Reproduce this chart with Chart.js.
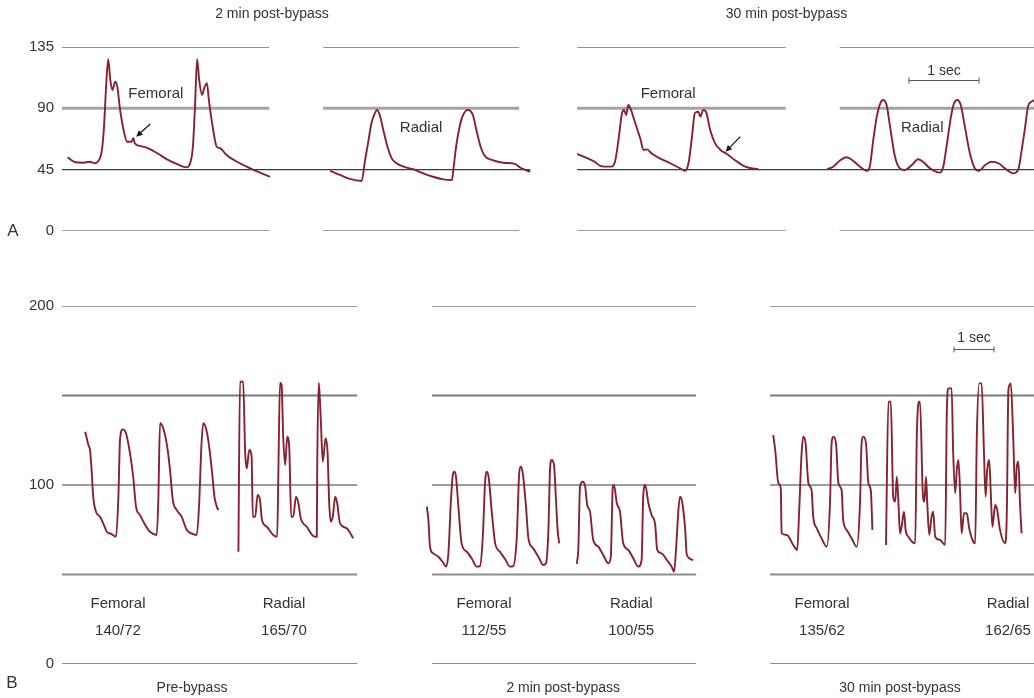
<!DOCTYPE html>
<html lang="en">
<head>
<meta charset="UTF-8">
<title>Femoral and radial arterial pressure</title>
<script src="https://cdn.jsdelivr.net/npm/chart.js"></script>
<style>
    body {
        margin: 0;
        background: #fff;
        font-family: "Liberation Sans", Arial, sans-serif;
    }
    #wrap { position: relative; width: 1034px; height: 698px; }
    .panel { position: absolute; left: 0; width: 1034px; }
    #panelA { top: 0; height: 262px; }
    #panelB { top: 262px; height: 436px; }
</style>
</head>
<body>
<div id="wrap">
    <div class="panel" id="panelA"><canvas id="chartA"></canvas></div>
    <div class="panel" id="panelB"><canvas id="chartB"></canvas></div>
</div>

<script>
// ---- Panel A data: time (s), pressure (mmHg) ----
const aTicks = [0, 45, 90, 135];
const aGridLevels = [0, 90, 135];
const aBaseline = 45;
const aSegments = [[0, 2.96], [3.73, 6.53], [7.36, 10.34], [11.11, 13.89]];
const aBaselineSpans = [[0, 6.69], [7.36, 13.89]];

const aFemoral2min = [[0.08,54],[0.19,50.4],[0.30,50.1],[0.40,50.8],[0.47,49.7],[0.51,50.8],[0.57,59.4],[0.60,76.5],[0.63,105.9],[0.66,126],[0.69,110.8],[0.72,103.4],[0.76,109.5],[0.79,105.9],[0.83,88.8],[0.88,74.1],[0.93,65.5],[0.99,65.5],[1.02,68],[1.04,64.3],[1.11,62.4],[1.21,61.1],[1.35,57.4],[1.50,52.6],[1.64,49.2],[1.78,46.7],[1.83,49.7],[1.87,61.8],[1.90,91.2],[1.93,126],[1.96,110.8],[2.00,99.8],[2.03,104.7],[2.07,108.4],[2.10,95.2],[2.16,74.1],[2.21,61.8],[2.26,60.7],[2.35,55.8],[2.50,50.8],[2.69,46],[2.83,42.8],[2.97,39.8]];
const aRadial2min = [[3.83,44.2],[3.97,41.1],[4.11,38.2],[4.28,36.7],[4.33,52.1],[4.38,66.8],[4.42,79],[4.47,86.4],[4.50,88.8],[4.54,85.1],[4.59,74.1],[4.65,61.8],[4.71,53.3],[4.78,49.7],[4.88,47.2],[5.02,45.3],[5.16,42.3],[5.30,39.8],[5.45,37.9],[5.57,37.4],[5.59,44.8],[5.63,61.8],[5.68,76.5],[5.73,85.1],[5.80,88.8],[5.87,85.1],[5.92,74.1],[5.98,61.8],[6.04,55],[6.14,52.1],[6.30,50.1],[6.47,49.2],[6.55,46.4],[6.69,43.5]];
const aFemoral30min = [[7.36,56.5],[7.45,54.5],[7.54,52.6],[7.61,50.8],[7.69,47.7],[7.76,47.2],[7.85,47.2],[7.90,50.8],[7.95,66.8],[8.00,86.4],[8.03,88.8],[8.06,85.1],[8.09,92.4],[8.12,90],[8.19,79],[8.26,68],[8.31,59.4],[8.36,59.9],[8.42,57],[8.54,53.3],[8.69,49.7],[8.83,46],[8.90,44.2],[8.95,49.7],[9.00,69.2],[9.04,86.4],[9.09,87.5],[9.12,83.9],[9.16,88.8],[9.20,87.5],[9.26,74.1],[9.33,64.3],[9.42,58.9],[9.50,56.5],[9.61,52.1],[9.76,47.2],[9.95,45.3]];
const aRadial30min = [[10.93,45.3],[11.02,47.2],[11.11,51.6],[11.21,54.1],[11.30,51.6],[11.40,47.2],[11.50,44.2],[11.54,47.2],[11.59,66.8],[11.64,83.9],[11.69,93.7],[11.73,96.1],[11.78,92.4],[11.83,76.5],[11.90,54.5],[11.97,46],[12.04,44.8],[12.14,48.4],[12.23,52.6],[12.30,50.8],[12.40,46],[12.54,42.8],[12.59,47.2],[12.65,66.8],[12.70,83.9],[12.74,93.2],[12.79,96.1],[12.84,92.4],[12.89,79],[12.97,57],[13.04,46],[13.10,44.2],[13.19,48.4],[13.28,50.8],[13.38,49.7],[13.47,46],[13.59,42.3],[13.66,44.8],[13.71,59.4],[13.76,76.5],[13.80,91.2],[13.85,94.9],[13.90,96.1]];

// ---- Panel B data ----
const bTicks = [0, 100, 200];
const bGridLevels = [0, 50, 150, 200];
const bBaseline = 100;
const bSegments = [[0, 7.38], [9.25, 15.85], [17.7, 24.3]];

const bPreFemoral = [[0.58,129.8],[0.66,122.3],[0.70,119.6],[0.74,108.4],[0.78,93.5],[0.85,85.1],[0.95,82.3],[1.03,78.6],[1.12,73.9],[1.24,72.6],[1.35,71.1],[1.41,93.5],[1.45,125.1],[1.52,131.1],[1.60,128.9],[1.70,117.7],[1.78,104.6],[1.85,87.9],[1.95,83.2],[2.08,77.7],[2.20,73.9],[2.37,72.1],[2.41,93.5],[2.45,134.5],[2.53,131.7],[2.63,121.4],[2.70,108.4],[2.77,91.6],[2.87,86],[2.99,82.3],[3.12,74.9],[3.28,72.6],[3.37,72.1],[3.43,89.8],[3.48,119.6],[3.53,134.5],[3.62,129.8],[3.70,117.7],[3.77,102.8],[3.81,93.5],[3.87,87.9],[3.91,86]];
const bPreRadial = [[4.41,62.7],[4.45,157.7],[4.53,157.7],[4.58,117.7],[4.62,109.3],[4.68,119.6],[4.74,115.8],[4.77,82.3],[4.83,82.3],[4.89,94.4],[4.95,91.6],[5.00,80.4],[5.12,76.7],[5.28,72.1],[5.38,71.1],[5.41,108.4],[5.45,157.2],[5.49,155.9],[5.53,127],[5.58,111.2],[5.63,127],[5.68,121.4],[5.73,82.3],[5.78,82.3],[5.85,93.5],[5.91,89.8],[5.97,81.4],[6.12,76.7],[6.28,71.5],[6.37,71.1],[6.38,108.4],[6.42,157.2],[6.47,136.3],[6.52,113],[6.59,126.1],[6.64,117.7],[6.68,89.8],[6.72,79.5],[6.77,82.3],[6.83,93.5],[6.88,89.8],[6.95,78.6],[7.12,75.8],[7.28,70.2]];
const bPost2Femoral = [[9.12,87.9],[9.16,80.4],[9.20,65.5],[9.28,61.8],[9.41,59.9],[9.53,56.6],[9.60,54.4],[9.66,61.8],[9.72,89.8],[9.77,105.6],[9.81,107.4],[9.85,104.6],[9.91,87.9],[9.99,67.4],[10.12,62.7],[10.24,59.1],[10.37,54.4],[10.45,54.7],[10.52,71.1],[10.58,102.8],[10.62,107.4],[10.67,103.7],[10.74,86],[10.83,67.4],[10.95,62.7],[11.08,58.5],[11.20,54.4],[11.28,54.7],[11.37,71.1],[11.43,106.5],[11.47,110.2],[11.52,106.5],[11.60,87.9],[11.66,70.2],[11.78,64.6],[11.91,59.9],[12.03,55.3],[12.10,56.3],[12.16,74.9],[12.20,108.4],[12.24,114],[12.30,111.2],[12.35,91.6],[12.39,74.9],[12.43,67.4]];
const bPost2Radial = [[12.87,55.9],[12.91,65.5],[12.95,99.1],[13.02,101.8],[13.08,99.1],[13.13,88.8],[13.20,85.1],[13.28,69.3],[13.41,65.5],[13.53,60.9],[13.66,56.3],[13.72,59.9],[13.77,99.1],[13.80,100],[13.87,89.8],[13.95,85.1],[14.03,67.4],[14.16,63.7],[14.28,59.1],[14.41,54.4],[14.49,58.1],[14.53,93.5],[14.58,100],[14.66,89.8],[14.74,83.2],[14.83,77.7],[14.88,63.7],[14.99,61.8],[15.12,58.1],[15.24,54.4],[15.30,51.6],[15.35,63.7],[15.41,86],[15.45,93.5],[15.51,89.8],[15.58,74.9],[15.62,60.9],[15.78,58.1]];
const bPost30Femoral = [[17.78,127.9],[17.83,119.6],[17.91,101],[17.97,98.2],[17.99,73],[18.12,72.1],[18.28,66.5],[18.38,63.7],[18.43,86],[18.49,117.7],[18.53,127],[18.59,123.3],[18.66,101],[18.74,97.2],[18.78,82.3],[18.87,75.8],[18.99,70.2],[19.12,65.5],[19.20,89.8],[19.24,123.3],[19.28,127],[19.35,123.3],[19.41,101],[19.49,97.2],[19.53,80.4],[19.62,74.9],[19.74,70.2],[19.87,65.5],[19.95,89.8],[19.99,123.3],[20.03,127],[20.10,123.3],[20.16,101],[20.22,97.2],[20.26,74.9]];
const bPost30Radial = [[20.60,66.5],[20.66,146.5],[20.72,146.5],[20.78,93.5],[20.83,90.7],[20.87,104.6],[20.91,90.7],[20.95,73],[20.99,76.7],[21.05,85.1],[21.09,74.9],[21.16,71.1],[21.33,67.4],[21.37,127],[21.42,146.5],[21.45,146.5],[21.52,95.4],[21.56,90.7],[21.60,104.6],[21.63,90.7],[21.68,72.1],[21.74,82.3],[21.78,85.1],[21.83,71.1],[21.95,69.3],[22.08,66.5],[22.12,140.1],[22.16,154],[22.24,154],[22.28,117.7],[22.33,95.4],[22.37,108.4],[22.41,114],[22.45,97.2],[22.49,73],[22.55,84.2],[22.62,84.2],[22.68,75.8],[22.78,68.3],[22.83,67.4],[22.87,127],[22.93,156.8],[22.99,156.8],[23.05,117.7],[23.09,93.5],[23.13,108.4],[23.18,114],[23.22,95.4],[23.26,76.7],[23.33,88.8],[23.38,86],[23.45,74.9],[23.58,67.4],[23.62,84.2],[23.66,153.1],[23.72,156.8],[23.78,127],[23.83,95.4],[23.87,110.2],[23.91,113],[23.95,89.8],[23.99,73]];

// ---- styles ----
const TRACE = '#86222e';
const FONT = '"Liberation Sans", Arial, sans-serif';
// grid line look per level (light thick mid-lines, darker outer ones)
const gridStyle = {
    a: { 0: ['#7e7e7e', 1.6], 90: ['#a3a3a3', 3], 135: ['#6e6e6e', 1.6] },
    b: { 0: ['#8e8e8e', 1.8], 50: ['#8e8e8e', 2], 150: ['#7a7a7a', 1.8], 200: ['#7a7a7a', 1.6] }
};

function traceSet(points) {
    return {
        data: points.map(([t, p]) => ({ x: t, y: p })),
        showLine: true,
        borderColor: TRACE,
        borderWidth: 1.9,
        pointRadius: 0,
        cubicInterpolationMode: 'monotone',
        order: 0
    };
}

function lineSet(from, to, level, color, width) {
    return {
        data: [{ x: from, y: level }, { x: to, y: level }],
        showLine: true,
        borderColor: color,
        borderWidth: width,
        pointRadius: 0,
        order: 1
    };
}

function gridSets(segments, levels, styles, baseline, baseSpans) {
    const out = [];
    segments.forEach(([a, b]) => {
        levels.forEach(lv => out.push(lineSet(a, b, lv, styles[lv][0], styles[lv][1])));
    });
    (baseSpans || segments).forEach(([a, b]) => out.push(lineSet(a, b, baseline, '#3a3a3a', 1.2)));
    return out;
}

// draws text labels, scale bar and arrows in data coordinates
const annotate = {
    id: 'annotate',
    afterDatasetsDraw(chart, args, opts) {
        const { ctx } = chart;
        const x = chart.scales.x, y = chart.scales.y;
        ctx.save();
        (opts.labels || []).forEach(l => {
            ctx.font = (l.size || 15) + 'px ' + FONT;
            ctx.fillStyle = '#333';
            ctx.textAlign = 'center';
            ctx.textBaseline = 'middle';
            ctx.fillText(l.text, x.getPixelForValue(l.t), y.getPixelForValue(l.p));
        });
        if (opts.bar) {
            const x0 = x.getPixelForValue(opts.bar.t);
            const x1 = x.getPixelForValue(opts.bar.t + opts.bar.len);
            const yy = Math.round(y.getPixelForValue(opts.bar.p)) + 0.5;
            ctx.strokeStyle = '#555';
            ctx.lineWidth = 1;
            ctx.beginPath();
            ctx.moveTo(x0, yy); ctx.lineTo(x1, yy);
            ctx.moveTo(x0, yy - 3); ctx.lineTo(x0, yy + 3);
            ctx.moveTo(x1, yy - 3); ctx.lineTo(x1, yy + 3);
            ctx.stroke();
        }
        (opts.arrows || []).forEach(a => {
            const fx = x.getPixelForValue(a.from[0]), fy = y.getPixelForValue(a.from[1]);
            const tx = x.getPixelForValue(a.to[0]), ty = y.getPixelForValue(a.to[1]);
            const ang = Math.atan2(ty - fy, tx - fx);
            ctx.strokeStyle = '#111';
            ctx.fillStyle = '#111';
            ctx.lineWidth = 1.2;
            ctx.beginPath();
            ctx.moveTo(fx, fy);
            ctx.lineTo(tx - 4 * Math.cos(ang), ty - 4 * Math.sin(ang));
            ctx.stroke();
            ctx.beginPath();
            ctx.moveTo(tx, ty);
            ctx.lineTo(tx - 7 * Math.cos(ang - 0.45), ty - 7 * Math.sin(ang - 0.45));
            ctx.lineTo(tx - 7 * Math.cos(ang + 0.45), ty - 7 * Math.sin(ang + 0.45));
            ctx.closePath();
            ctx.fill();
        });
        ctx.restore();
    }
};

function makeChart(id, cfg) {
    return new Chart(document.getElementById(id), {
        type: 'scatter',
        data: { datasets: cfg.datasets },
        plugins: [annotate],
        options: {
            responsive: true,
            maintainAspectRatio: false,
            animation: false,
            events: [],
            layout: { padding: cfg.padding },
            plugins: {
                legend: { display: false },
                tooltip: { enabled: false },
                annotate: cfg.notes
            },
            scales: {
                x: { type: 'linear', display: false, min: 0, max: cfg.xMax },
                y: {
                    min: 0,
                    max: cfg.yMax,
                    afterFit(s) { s.width = 62; },
                    afterBuildTicks(s) { s.ticks = cfg.ticks.map(v => ({ value: v })); },
                    grid: { display: false, drawTicks: false },
                    border: { display: false },
                    ticks: { padding: 8, color: '#333', font: { size: 15, family: FONT } }
                }
            }
        }
    });
}

makeChart('chartA', {
    xMax: 13.886,
    yMax: 135,
    ticks: aTicks,
    padding: { top: 47, bottom: 31, left: 0, right: 0 },
    datasets: [aFemoral2min, aRadial2min, aFemoral30min, aRadial30min].map(traceSet)
        .concat(gridSets(aSegments, aGridLevels, gridStyle.a, aBaseline, aBaselineSpans)),
    notes: {
        labels: [
            { text: '2 min post-bypass', t: 3.0, p: 159, size: 14 },
            { text: '30 min post-bypass', t: 10.35, p: 159, size: 14 },
            { text: 'Femoral', t: 1.34, p: 100.5 },
            { text: 'Radial', t: 5.13, p: 75.6 },
            { text: 'Femoral', t: 8.66, p: 100.5 },
            { text: 'Radial', t: 12.29, p: 75.6 },
            { text: '1 sec', t: 12.6, p: 117, size: 14 },
            { text: 'A', t: -0.7, p: 0, size: 17 }
        ],
        bar: { t: 12.1, p: 110.8, len: 1 },
        arrows: [
            { from: [1.26, 78.5], to: [1.06, 69.2] },
            { from: [9.69, 69.2], to: [9.48, 58.2] }
        ]
    }
});

makeChart('chartB', {
    xMax: 24.3,
    yMax: 200,
    ticks: bTicks,
    padding: { top: 44, bottom: 34, left: 0, right: 0 },
    datasets: [bPreFemoral, bPreRadial, bPost2Femoral, bPost2Radial, bPost30Femoral, bPost30Radial].map(traceSet)
        .concat(gridSets(bSegments, bGridLevels, gridStyle.b, bBaseline)),
    notes: {
        labels: [
            { text: 'Femoral', t: 1.4, p: 33.5 },
            { text: '140/72', t: 1.4, p: 18.4 },
            { text: 'Radial', t: 5.55, p: 33.5 },
            { text: '165/70', t: 5.55, p: 18.4 },
            { text: 'Femoral', t: 10.55, p: 33.5 },
            { text: '112/55', t: 10.55, p: 18.4 },
            { text: 'Radial', t: 14.23, p: 33.5 },
            { text: '100/55', t: 14.23, p: 18.4 },
            { text: 'Femoral', t: 19.0, p: 33.5 },
            { text: '135/62', t: 19.0, p: 18.4 },
            { text: 'Radial', t: 23.65, p: 33.5 },
            { text: '162/65', t: 23.65, p: 18.4 },
            { text: '1 sec', t: 22.8, p: 182, size: 14 },
            { text: 'Pre-bypass', t: 3.25, p: -13.4, size: 14 },
            { text: '2 min post-bypass', t: 12.53, p: -13.4, size: 14 },
            { text: '30 min post-bypass', t: 20.95, p: -13.4, size: 14 },
            { text: 'B', t: -1.25, p: -10.6, size: 17 }
        ],
        bar: { t: 22.3, p: 176, len: 1 }
    }
});
</script>
</body>
</html>
